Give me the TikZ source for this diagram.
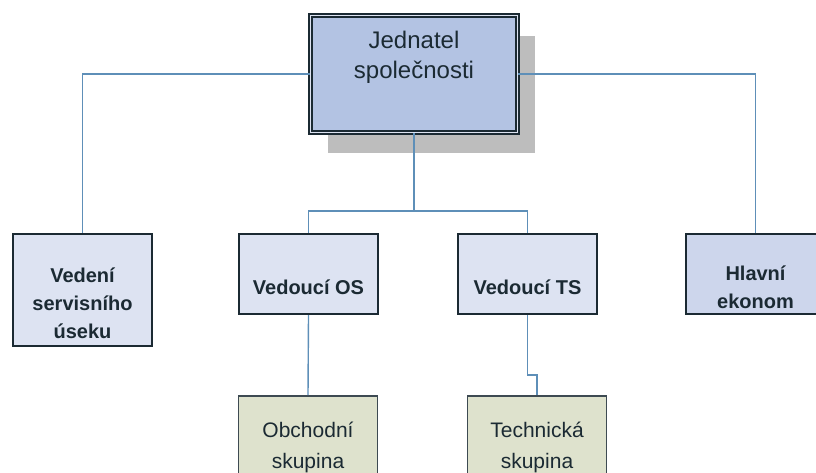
\documentclass[tikz,border=0pt]{standalone}
\usepackage{fontspec}
\setmainfont{Liberation Sans}
\usetikzlibrary{shadows}
\definecolor{Ink}{HTML}{1B2A33}
\definecolor{Wire}{HTML}{5E8FB8}
\definecolor{Chief}{HTML}{B3C3E3}
\definecolor{Head}{HTML}{DDE3F2}
\definecolor{HeadDark}{HTML}{CDD6EC}
\definecolor{Team}{HTML}{DEE2CD}
\definecolor{Shade}{HTML}{BDBDBD}
\tikzset{
  chief/.style={
    draw=Ink, line width=1.3pt, double=Head, double distance=1.8pt,
    fill=Chief, minimum width=207pt, minimum height=117pt, inner sep=0pt,
    drop shadow={shadow xshift=17pt, shadow yshift=-20pt, fill=Shade, opacity=1}
  },
  head/.style={
    draw=Ink, line width=2.2pt, fill=Head,
    minimum width=139pt, minimum height=80pt, inner sep=0pt
  },
  team/.style={
    draw=Ink!85, line width=1.8pt, fill=Team,
    minimum width=139pt, minimum height=80pt, inner sep=0pt
  },
  chieftext/.style={font=\fontsize{24}{30}\selectfont, text=Ink, align=center},
  headtext/.style={font=\fontsize{20}{28}\selectfont\bfseries, text=Ink, align=center},
  teamtext/.style={font=\fontsize{21}{31}\selectfont, text=Ink, align=center},
  link/.style={draw=Wire, line width=1.4pt}
}

\begin{document}
\begin{tikzpicture}[x=1pt,y=-1pt]
    \useasboundingbox (0,0) rectangle (816,472);
    \clip (0,0) rectangle (816,472);
    % boxes
    \node[chief] (jed) at (414,74) {};
    \node[head,minimum height=112pt] (ved) at (82.5,290) {};
    \node[head] (os) at (308.5,274) {};
    \node[head] (ts) at (527.5,274) {};
    \node[head,fill=HeadDark] (hla) at (755.5,274) {};
    \node[team] (obc) at (308,436) {};
    \node[team] (tec) at (537,436) {};
    % texts
    \node[chieftext] (jedtext) at ([yshift=17pt]jed.center) {Jednatel\\společnosti};
    \node[headtext] (vedtext) at ([yshift=-13pt]ved.center) {Vedení\\servisního\\úseku};
    \node[headtext] (ostext) at ([yshift=-13pt]os.center) {Vedoucí OS};
    \node[headtext] (tstext) at ([yshift=-13pt]ts.center) {Vedoucí TS};
    \node[headtext] (hlatext) at ([yshift=-13pt]hla.center) {Hlavní\\ekonom};
    \node[teamtext] (obctext) at ([yshift=-11.5pt]obc.center) {Obchodní\\skupina};
    \node[teamtext] (tectext) at ([yshift=-11.5pt]tec.center) {Technická\\skupina};
    % links
    \draw[link] (jed.west) -| (ved.north);
    \draw[link] (jed.east) -| (hla.north);
    \draw[link] (jed.south) -- ++(0,78) coordinate (fork);
    \draw[link] (fork) -| (os.north);
    \draw[link] (fork) -| (ts.north);
    \draw[link] (os.south) -- (obc.north);
    \draw[link] (ts.south) -- ++(0,60) -| (tec.north);
\end{tikzpicture}
\end{document}
